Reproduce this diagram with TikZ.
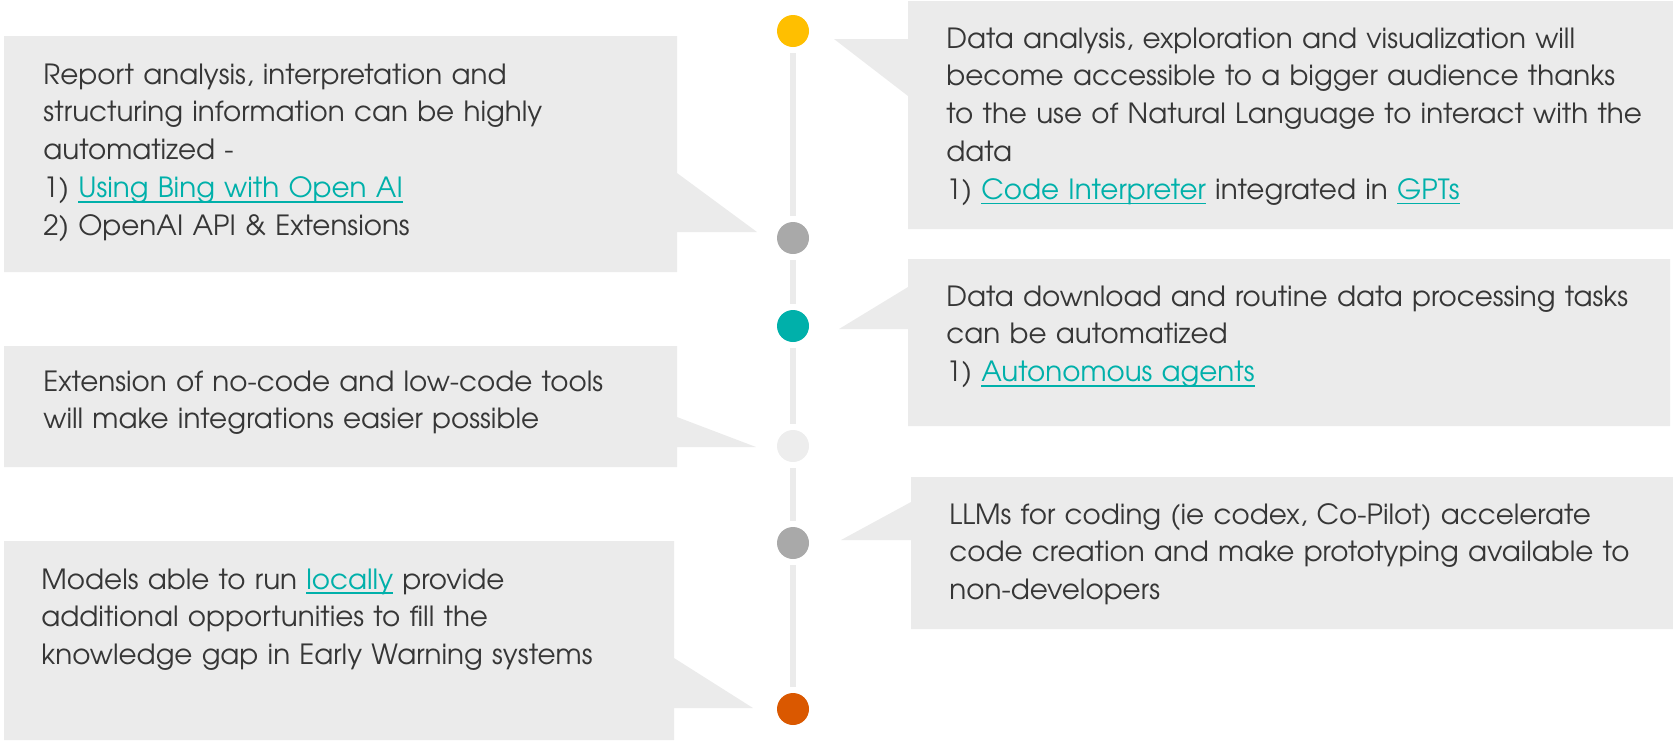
\documentclass[tikz,border=0pt]{standalone}
\usepackage{fontspec}
\setmainfont{TeX Gyre Adventor}
\usetikzlibrary{positioning}

\definecolor{boxgray}{HTML}{EBEBEB}
\definecolor{ink}{HTML}{363636}
\definecolor{linkteal}{HTML}{00B0AA}
\definecolor{dotyellow}{HTML}{FFBF00}
\definecolor{dotgray}{HTML}{A9A9A9}
\definecolor{dotlight}{HTML}{EDEDED}
\definecolor{dotorange}{HTML}{DA5800}

% underlined link text
\newcommand\lnk[1]{{\color{linkteal}\setbox0\hbox{#1}\rlap{\rule[-2.4pt]{\wd0}{0.9pt}}\box0}}

\tikzset{
  dot/.style={circle, minimum size=16pt, inner sep=0},
  spine/.style={line width=3pt, draw=boxgray, shorten <=3pt, shorten >=3pt},
  callout/.style={fill=boxgray},
  txt/.style={anchor=base west, inner sep=0, text width=400pt, align=left,
    text=ink, font=\fontsize{13.9}{18.95}\selectfont}
}

\begin{document}
\begin{tikzpicture}[x=0.5pt, y=-0.5pt, node distance=1.5cm]
    \useasboundingbox (0,0) rectangle (1673,740);

    % callout boxes
    \fill[callout] (4,36) -- (677,36) -- (677,173) -- (757,232) -- (677,232) -- (677,272) -- (4,272) -- cycle;
    \fill[callout] (908,1) -- (1673,1) -- (1673,229) -- (908,229) -- (908,96) -- (834,39) -- (908,39) -- cycle;
    \fill[callout] (908,259) -- (1670,259) -- (1670,426) -- (908,426) -- (908,329) -- (839,329) -- (908,287) -- cycle;
    \fill[callout] (4,346) -- (677,346) -- (677,417) -- (756,447) -- (677,447) -- (677,467) -- (4,467) -- cycle;
    \fill[callout] (911,477) -- (1673,477) -- (1673,629) -- (911,629) -- (911,540) -- (841,540) -- (911,502) -- cycle;
    \fill[callout] (4,541) -- (674,541) -- (674,658) -- (753,708) -- (674,708) -- (674,740) -- (4,740) -- cycle;

    \node[dot, fill=dotyellow] (d1) at (793,31) {};
    \node[dot, fill=dotgray] (d2) at (793,238) {};
    \node[dot, fill=linkteal] (d3) at (793,326) {};
    \node[dot, fill=dotlight] (d4) at (793,446) {};
    \node[dot, fill=dotgray] (d5) at (793,543) {};
    \node[dot, fill=dotorange] (d6) at (793,709) {};

    \draw[spine] (d1) -- (d2);
    \draw[spine] (d2) -- (d3);
    \draw[spine] (d3) -- (d4);
    \draw[spine] (d4) -- (d5);
    \draw[spine] (d5) -- (d6);

    \node[txt] (report) at (43,84) {Report analysis, interpretation and\\
        structuring information can be highly\\
        automatized -\\
        1) \lnk{Using Bing with Open AI}\\
        2) OpenAI API \& Extensions};
    \node[txt] (explore) at (946,48) {Data analysis, exploration and visualization will\\
        become accessible to a bigger audience thanks\\
        to the use of Natural Language to interact with the\\
        data\\
        1) \lnk{Code Interpreter} integrated in \lnk{GPTs}};
    \node[txt] (download) at (946,306) {Data download and routine data processing tasks\\
        can be automatized\\
        1) \lnk{Autonomous agents}};
    \node[txt] (nocode) at (43,391) {Extension of no-code and low-code tools\\
        will make integrations easier possible};
    \node[txt] (coding) at (949,524) {LLMs for coding (ie codex, Co-Pilot) accelerate\\
        code creation and make prototyping available to\\
        non-developers};
    \node[txt] (local) at (41,589) {Models able to run \lnk{locally} provide\\
        additional opportunities to fill the\\
        knowledge gap in Early Warning systems};
\end{tikzpicture}
\end{document}
